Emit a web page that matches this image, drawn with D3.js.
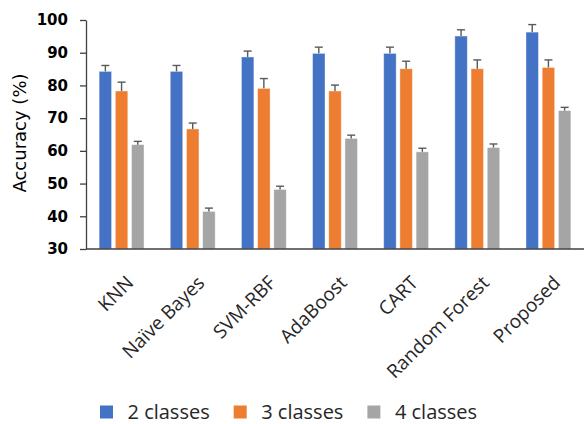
<!DOCTYPE html>
<html>
<head>
<meta charset="utf-8">
<script src="https://cdn.jsdelivr.net/npm/d3@7"></script>
<style>
  html, body { margin: 0; padding: 0; background: #fff; }
  svg { display: block; }
</style>
</head>
<body>
<svg id="chart" width="584" height="424"></svg>
<script>
// Classifier accuracy by number of classes, with error bars
const categories = ["KNN", "Naïve Bayes", "SVM-RBF", "AdaBoost", "CART", "Random Forest", "Proposed"];
const seriesNames = ["2 classes", "3 classes", "4 classes"];
const colors = ["#4472C4", "#ED7D31", "#A5A5A5"];

const acc2 = [84.3, 84.3, 88.7, 89.8, 89.8, 95.1, 96.3];
const acc3 = [78.3, 66.7, 79.1, 78.3, 85.1, 85.1, 85.5];
const acc4 = [61.9, 41.5, 48.2, 63.8, 59.7, 61.0, 72.3];
const err2 = [1.8, 1.8, 1.8, 1.9, 1.9, 1.9, 2.3];
const err3 = [2.7, 1.8, 3.0, 1.8, 2.3, 2.7, 2.3];
const err4 = [1.0, 1.0, 1.0, 1.0, 1.1, 1.1, 1.0];
const yTicks = [30, 40, 50, 60, 70, 80, 90, 100];

const values = [acc2, acc3, acc4];
const errors = [err2, err3, err4];

const svg = d3.select("#chart");

const x0 = d3.scaleBand().domain(categories).range([86, 584]).padding(0);
const groupWidth = 44.9;
const x1 = d3.scaleBand().domain(seriesNames).range([0, groupWidth]).paddingInner(0.23).paddingOuter(0);
const y = d3.scaleLinear().domain([30, 100]).range([249, 20]);

// rows: one per bar
const rows = [];
categories.forEach((c, ci) => {
  seriesNames.forEach((s, si) => {
    rows.push({ cat: c, series: s, si, value: values[si][ci], err: errors[si][ci] });
  });
});

const groupOffset = (x0.bandwidth() - groupWidth) / 2;
const barX = d => x0(d.cat) + groupOffset + x1(d.series);

// bars
svg.append("g").selectAll("rect")
  .data(rows)
  .join("rect")
  .attr("x", barX)
  .attr("y", d => y(d.value))
  .attr("width", x1.bandwidth())
  .attr("height", d => y(30) - y(d.value))
  .attr("fill", d => colors[d.si])
  .attr("stroke", "#ffffff")
  .attr("stroke-opacity", 0.5)
  .attr("stroke-width", 0.8);

// error bars (upper whisker with cap)
const eb = svg.append("g").attr("stroke", "#5a5a5a").attr("stroke-width", 1.4);
eb.selectAll("line.stem")
  .data(rows)
  .join("line")
  .attr("class", "stem")
  .attr("x1", d => barX(d) + x1.bandwidth() / 2)
  .attr("x2", d => barX(d) + x1.bandwidth() / 2)
  .attr("y1", d => y(d.value))
  .attr("y2", d => y(d.value + d.err));
eb.selectAll("line.cap")
  .data(rows)
  .join("line")
  .attr("class", "cap")
  .attr("x1", d => barX(d) + x1.bandwidth() / 2 - 4)
  .attr("x2", d => barX(d) + x1.bandwidth() / 2 + 4)
  .attr("y1", d => y(d.value + d.err))
  .attr("y2", d => y(d.value + d.err));

// y axis
const yAxis = svg.append("g")
  .attr("transform", "translate(86,0)")
  .call(d3.axisLeft(y).tickValues(yTicks).tickSize(6).tickSizeOuter(0).tickPadding(12));
yAxis.select(".domain").attr("stroke", "#404040").attr("stroke-width", 1.3);
yAxis.selectAll(".tick line").attr("stroke", "#404040").attr("stroke-width", 1.3);
yAxis.selectAll(".tick text")
  .attr("fill", "#000")
  .style("font-family", "'DejaVu Sans', sans-serif")
  .style("font-weight", "bold")
  .style("font-size", "15px");

// x axis baseline
svg.append("line")
  .attr("x1", 86).attr("x2", 584)
  .attr("y1", y(30)).attr("y2", y(30))
  .attr("stroke", "#404040").attr("stroke-width", 1.5);

// category labels
svg.append("g").selectAll("text")
  .data(categories)
  .join("text")
  .attr("transform", d => `translate(${x0(d) + x0.bandwidth() / 2 + 13},284) rotate(-45)`)
  .attr("text-anchor", "end")
  .attr("fill", "#262626")
  .style("font-family", "'Open Sans', sans-serif")
  .style("font-size", "19px")
  .text(d => d);

// y axis title
svg.append("text")
  .attr("transform", "translate(26,133) rotate(-90)")
  .attr("text-anchor", "middle")
  .attr("fill", "#000")
  .style("font-family", "'DejaVu Sans', sans-serif")
  .style("font-size", "18px")
  .text("Accuracy (%)");

// legend
const legend = svg.append("g").selectAll("g")
  .data(seriesNames)
  .join("g")
  .attr("transform", (d, i) => `translate(${100 + i * 133.7},405.5)`);
legend.append("rect")
  .attr("width", 13).attr("height", 13)
  .attr("fill", (d, i) => colors[i]);
legend.append("text")
  .attr("x", 27.5).attr("y", 13)
  .attr("fill", "#262626")
  .style("font-family", "'Open Sans', sans-serif")
  .style("font-size", "20px")
  .text(d => d);
</script>
</body>
</html>
